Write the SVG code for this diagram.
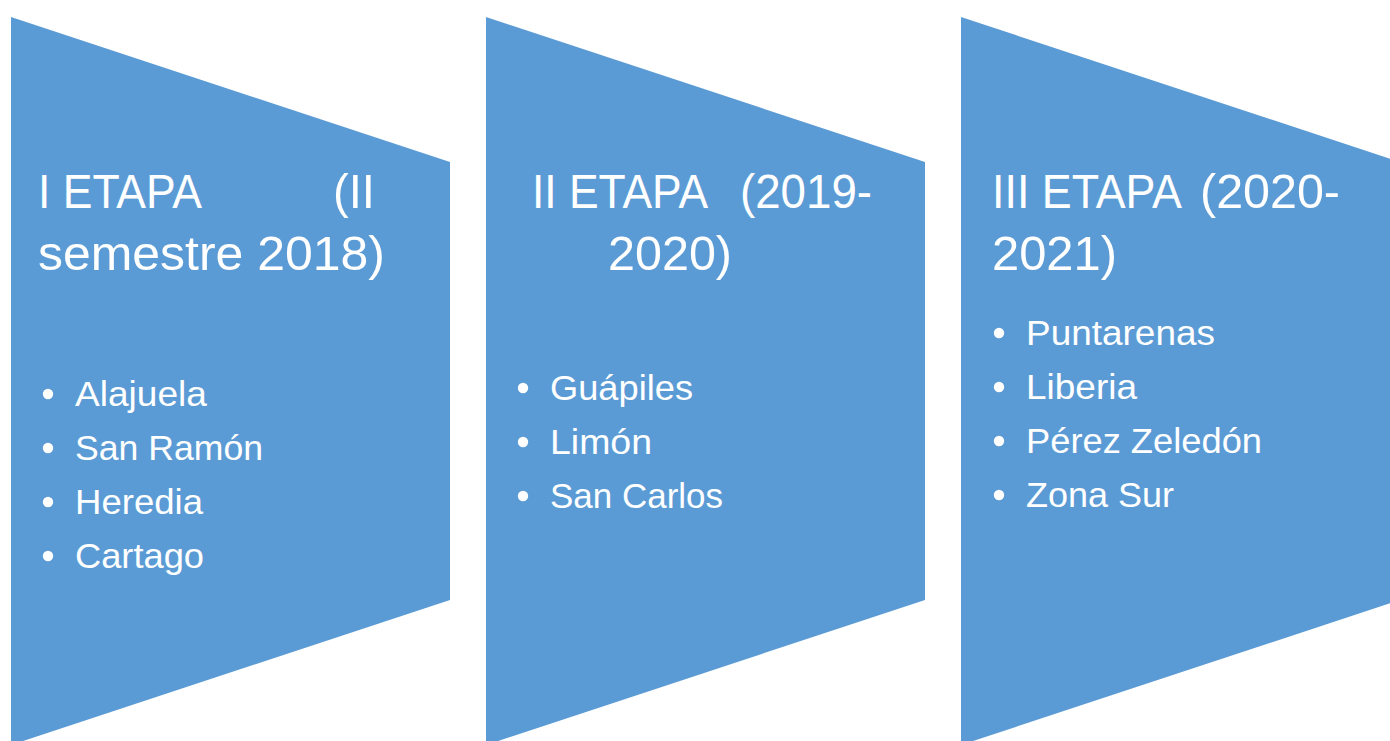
<svg xmlns="http://www.w3.org/2000/svg" width="1390" height="741" viewBox="0 0 1390 741">
<style>
.shape{fill:#5B9BD5;}
.t{font-family:"Liberation Sans",Arial,sans-serif;fill:#ffffff;}
.h{font-size:49px;}
.b{font-size:35px;}
.dot{fill:#ffffff;}
</style>
<rect width="1390" height="741" fill="#ffffff"/>
<g id="stage1">
<polygon class="shape" points="11,17 450,162 450,600 11,745"/>
<text class="t h" x="38" y="208" textLength="164" lengthAdjust="spacingAndGlyphs">I ETAPA</text>
<text class="t h" x="333" y="208" textLength="42" lengthAdjust="spacingAndGlyphs">(II</text>
<text class="t h" x="38" y="270" textLength="347" lengthAdjust="spacingAndGlyphs">semestre 2018)</text>
<circle class="dot" cx="48" cy="394" r="5.2"/>
<text class="t b" x="75" y="406" textLength="132" lengthAdjust="spacingAndGlyphs">Alajuela</text>
<circle class="dot" cx="48" cy="448" r="5.2"/>
<text class="t b" x="75" y="460" textLength="188" lengthAdjust="spacingAndGlyphs">San Ramón</text>
<circle class="dot" cx="48" cy="502" r="5.2"/>
<text class="t b" x="75" y="514" textLength="128" lengthAdjust="spacingAndGlyphs">Heredia</text>
<circle class="dot" cx="48" cy="556" r="5.2"/>
<text class="t b" x="75" y="568" textLength="129" lengthAdjust="spacingAndGlyphs">Cartago</text>
</g>
<g id="stage2">
<polygon class="shape" points="486,17 925,162 925,600 486,745"/>
<text class="t h" x="532" y="208" textLength="176" lengthAdjust="spacingAndGlyphs">II ETAPA</text>
<text class="t h" x="740" y="208" textLength="132" lengthAdjust="spacingAndGlyphs">(2019-</text>
<text class="t h" x="608" y="270" textLength="124" lengthAdjust="spacingAndGlyphs">2020)</text>
<circle class="dot" cx="523" cy="388" r="5.2"/>
<text class="t b" x="550" y="400" textLength="143" lengthAdjust="spacingAndGlyphs">Guápiles</text>
<circle class="dot" cx="523" cy="442" r="5.2"/>
<text class="t b" x="550" y="454" textLength="102" lengthAdjust="spacingAndGlyphs">Limón</text>
<circle class="dot" cx="523" cy="496" r="5.2"/>
<text class="t b" x="550" y="508" textLength="173" lengthAdjust="spacingAndGlyphs">San Carlos</text>
</g>
<g id="stage3">
<polygon class="shape" points="961,17 1400,162 1400,600 961,745"/>
<text class="t h" x="992" y="208" textLength="190" lengthAdjust="spacingAndGlyphs">III ETAPA</text>
<text class="t h" x="1200" y="208" textLength="140" lengthAdjust="spacingAndGlyphs">(2020-</text>
<text class="t h" x="992" y="270" textLength="125" lengthAdjust="spacingAndGlyphs">2021)</text>
<circle class="dot" cx="999" cy="333" r="5.2"/>
<text class="t b" x="1026" y="345" textLength="189" lengthAdjust="spacingAndGlyphs">Puntarenas</text>
<circle class="dot" cx="999" cy="387" r="5.2"/>
<text class="t b" x="1026" y="399" textLength="111" lengthAdjust="spacingAndGlyphs">Liberia</text>
<circle class="dot" cx="999" cy="441" r="5.2"/>
<text class="t b" x="1026" y="453" textLength="236" lengthAdjust="spacingAndGlyphs">Pérez Zeledón</text>
<circle class="dot" cx="999" cy="495" r="5.2"/>
<text class="t b" x="1026" y="507" textLength="148" lengthAdjust="spacingAndGlyphs">Zona Sur</text>
</g>
<g id="connectors"></g>
</svg>
